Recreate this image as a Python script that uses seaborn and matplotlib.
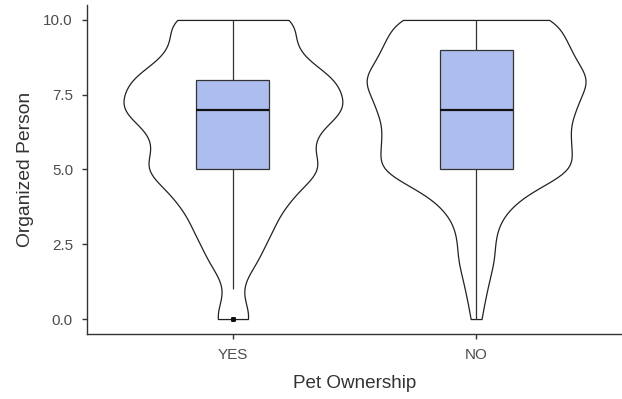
import numpy as np
import pandas as pd
import matplotlib
matplotlib.use("Agg")
import matplotlib.pyplot as plt
import seaborn as sns

# Ratings on a 0-10 scale and how many respondents gave each rating
ratings = [0, 1, 2, 3, 4, 5, 6, 7, 8, 9, 10]
counts_yes = [8, 2, 10, 15, 21, 35, 28, 44, 40, 22, 26]
counts_no = [2, 4, 7, 7, 14, 38, 34, 36, 43, 34, 32]
groups = ["YES", "NO"]
y_ticks = [0.0, 2.5, 5.0, 7.5, 10.0]

df = pd.DataFrame({
    "Pet Ownership": np.repeat(groups, [sum(counts_yes), sum(counts_no)]),
    "Organized Person": np.concatenate([
        np.repeat(ratings, counts_yes),
        np.repeat(ratings, counts_no),
    ]).astype(float),
})

sns.set_theme(style="white")
plt.rcParams["font.family"] = ["Liberation Sans", "DejaVu Sans"]

fig = plt.figure(figsize=(6.22, 3.99), dpi=100)
ax = fig.add_axes([0.1399, 0.1629, 0.8601, 0.8246])

# Kernel bandwidth of about 0.6 rating points for every violin
for g in groups:
    sub = df[df["Pet Ownership"] == g]
    bw = 0.6 / sub["Organized Person"].std()
    sns.violinplot(
        data=sub, x="Pet Ownership", y="Organized Person", order=groups,
        color="white", linecolor="#222222", linewidth=0.9, inner=None,
        cut=0, bw_method=bw, density_norm="width", width=0.9, ax=ax,
        saturation=1,
    )

sns.boxplot(
    data=df, x="Pet Ownership", y="Organized Person", order=groups,
    color="#ADBDED", saturation=1, width=0.3, ax=ax,
    showcaps=False,
    boxprops=dict(edgecolor="#333333", linewidth=0.9),
    whiskerprops=dict(color="#333333", linewidth=0.9),
    medianprops=dict(color="#111111", linewidth=1.6),
    flierprops=dict(marker="o", markersize=2.6, markerfacecolor="#111111",
                    markeredgecolor="#111111"),
)

ax.set_xlim(-0.6, 1.6)
ax.set_ylim(-0.5, 10.5)
ax.set_yticks(y_ticks)
ax.set_yticklabels([f"{t:.1f}" for t in y_ticks])

for side in ["top", "right"]:
    ax.spines[side].set_visible(False)
for side in ["left", "bottom"]:
    ax.spines[side].set_color("#333333")
    ax.spines[side].set_linewidth(1.0)

ax.tick_params(axis="both", which="both", direction="out", length=3.6,
               width=1.0, color="#333333", labelsize=11,
               labelcolor="#4D4D4D", left=True, bottom=True, pad=6.5)
ax.set_xlabel("Pet Ownership", fontsize=13.6, color="#333333", labelpad=9)
ax.set_ylabel("Organized Person", fontsize=13.9, color="#333333", labelpad=7)

fig.savefig("out.png", dpi=100)
